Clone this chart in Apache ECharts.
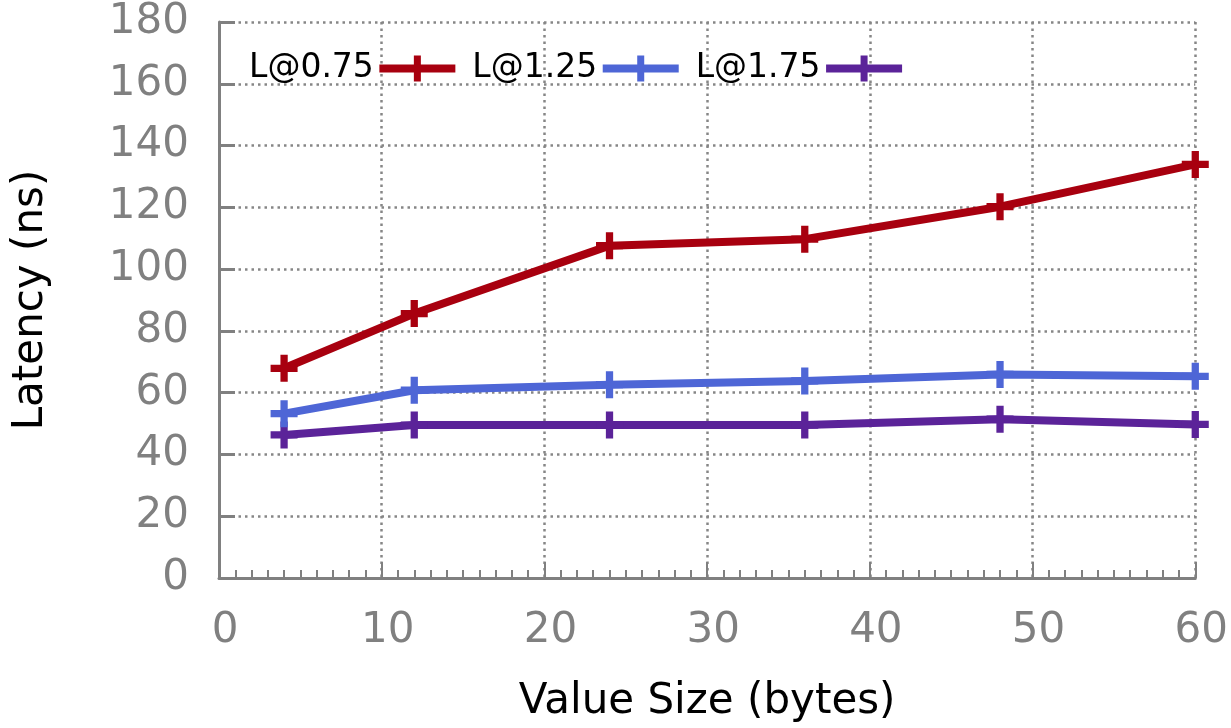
<!DOCTYPE html>
<html>
<head>
<meta charset="utf-8">
<script src="https://cdn.jsdelivr.net/npm/echarts@6/dist/echarts.min.js"></script>
<style>
  html, body { margin: 0; padding: 0; background: #ffffff; }
  #chart { width: 1231px; height: 728px; }
</style>
</head>
<body>
<div id="chart"></div>
<script>
// Value sizes (bytes) on the x axis
const valueSizes = [4, 12, 24, 36, 48, 60];
// Latency (ns) per load factor
const latency075 = [67.9, 85.6, 107.6, 109.7, 120.2, 133.9];
const latency125 = [53.2, 60.8, 62.6, 63.8, 65.9, 65.3];
const latency175 = [46.3, 49.5, 49.5, 49.5, 51.4, 49.7];
const seriesNames = ['L@0.75', 'L@1.25', 'L@1.75'];
const xTicks = [0, 10, 20, 30, 40, 50, 60];
const yTicks = [0, 20, 40, 60, 80, 100, 120, 140, 160, 180];

const colors = ['#a8000f', '#4e66d6', '#5b2399'];
const FONT = 'DejaVu Sans';
const GRAY = '#808080';

// filled plus marker
const PLUS = 'path://M9.5,0 H16.5 V9.5 H26 V16.5 H16.5 V26 H9.5 V16.5 H0 V9.5 H9.5 Z';
// legend key: thick line sample with a plus at its centre
const KEY = 'path://M0,9 H34.5 V0 H41.5 V9 H76 V17 H41.5 V26 H34.5 V17 H0 Z';

function pairs(ys) {
  return valueSizes.map((x, i) => [x, ys[i]]);
}

const seriesData = [latency075, latency125, latency175];

const chart = echarts.init(document.getElementById('chart'), null, { renderer: 'canvas' });

chart.setOption({
  backgroundColor: '#ffffff',
  animation: false,
  legend: {
    data: seriesNames.map(n => ({ name: n, icon: KEY })),
    left: 244,
    top: 47,
    align: 'right',
    itemWidth: 77,
    itemHeight: 26,
    itemGap: 17,
    textStyle: { fontFamily: FONT, fontSize: 33, color: '#000000' }
  },
  grid: { left: 219, right: 35, top: 22, bottom: 150, containLabel: false },
  xAxis: {
    type: 'value',
    min: xTicks[0],
    max: xTicks[xTicks.length - 1],
    interval: 10,
    name: 'Value Size (bytes)',
    nameLocation: 'middle',
    nameGap: 103,
    nameTextStyle: { fontFamily: FONT, fontSize: 42, color: '#000000' },
    axisLine: { show: true, lineStyle: { color: GRAY, width: 3 } },
    axisTick: { show: true, inside: true, length: 16, lineStyle: { color: GRAY, width: 2 } },
    minorTick: { show: true, splitNumber: 10, length: 8, lineStyle: { color: GRAY, width: 2 } },
    axisLabel: {
      fontFamily: FONT, fontSize: 42, color: GRAY, margin: 32,
      padding: [0, 0, 0, 12]
    },
    splitLine: { show: true, lineStyle: { color: '#868686', width: 2.5, type: [2.5, 4] } }
  },
  yAxis: {
    type: 'value',
    min: yTicks[0],
    max: yTicks[yTicks.length - 1],
    interval: 20,
    name: 'Latency (ns)',
    nameLocation: 'middle',
    nameGap: 167,
    nameRotate: 90,
    nameTextStyle: { fontFamily: FONT, fontSize: 42, color: '#000000' },
    axisLine: { show: true, lineStyle: { color: GRAY, width: 3 } },
    axisTick: { show: true, inside: true, length: 16, lineStyle: { color: GRAY, width: 3 } },
    axisLabel: { fontFamily: FONT, fontSize: 42, color: GRAY, margin: 30 },
    splitLine: { show: true, lineStyle: { color: '#868686', width: 2.5, type: [2.5, 4] } }
  },
  series: seriesNames.map((name, i) => ({
    name: name,
    type: 'line',
    data: pairs(seriesData[i]),
    symbol: PLUS,
    symbolSize: 27,
    showAllSymbol: true,
    lineStyle: { color: colors[i], width: 8, cap: 'round', join: 'round' },
    itemStyle: { color: colors[i] },
    z: 10 - i
  }))
});
</script>
</body>
</html>
